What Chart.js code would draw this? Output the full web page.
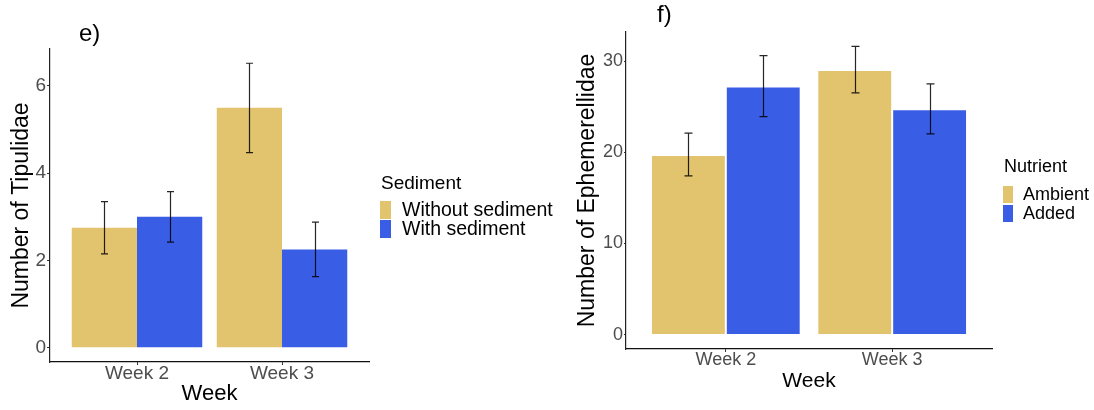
<!DOCTYPE html>
<html><head><meta charset="utf-8">
<script src="https://cdn.jsdelivr.net/npm/chart.js@4.4.1/dist/chart.umd.min.js"></script>
<style>
html,body{margin:0;padding:0;background:#fff;width:1094px;height:410px;overflow:hidden;}
#p1{position:absolute;left:0;top:0;}
#p2{position:absolute;left:560px;top:0;}
</style></head><body>
<canvas id="p1" width="560" height="410"></canvas>
<canvas id="p2" width="534" height="410"></canvas>
<script>
// ---------- shared categories ----------
const weeks = ['Week 2', 'Week 3'];
const weekPositions = [1, 2];

// ---------- panel e) Tipulidae ----------
const sedimentGroups = ['Without sediment', 'With sediment'];
const tipWithoutMean = [2.75, 5.5];
const tipWithoutLow  = [2.15, 4.47];
const tipWithoutHigh = [3.35, 6.52];
const tipWithMean = [3.0, 2.25];
const tipWithLow  = [2.42, 1.63];
const tipWithHigh = [3.58, 2.88];
const tipTicks = [0, 2, 4, 6];
const tipRange = [-0.326, 6.846];

// ---------- panel f) Ephemerellidae ----------
const nutrientGroups = ['Ambient', 'Added'];
const ephAmbientMean = [19.7, 29.0];
const ephAmbientLow  = [17.4, 26.5];
const ephAmbientHigh = [22.1, 31.6];
const ephAddedMean = [27.2, 24.7];
const ephAddedLow  = [23.9, 22.0];
const ephAddedHigh = [30.6, 27.5];
const ephTicks = [0, 10, 20, 30];
const ephRange = [-1.58, 33.18];

const GOLD = '#E2C36E';
const BLUE = '#395EE5';
const FONT = "'Liberation Sans', Arial, Helvetica, sans-serif";

const errorBarPlugin = {
  id: 'errorBars',
  afterDatasetsDraw(chart) {
    const ctx = chart.ctx, ys = chart.scales.y;
    const cap = chart.options.plugins.errorBars.cap;
    chart.data.datasets.forEach((ds, di) => {
      const meta = chart.getDatasetMeta(di);
      meta.data.forEach((bar, i) => {
        const x = Math.round(bar.x) + 0.5;
        const yl = ys.getPixelForValue(ds.errLow[i]);
        const yh = ys.getPixelForValue(ds.errHigh[i]);
        ctx.save();
        ctx.strokeStyle = 'rgba(0,0,0,0.85)';
        ctx.lineWidth = 1.2;
        ctx.beginPath();
        ctx.moveTo(x, yl); ctx.lineTo(x, yh);
        ctx.moveTo(x - cap, yl); ctx.lineTo(x + cap, yl);
        ctx.moveTo(x - cap, yh); ctx.lineTo(x + cap, yh);
        ctx.stroke();
        ctx.restore();
      });
    });
  }
};

const sideLegendPlugin = {
  id: 'sideLegend',
  afterDraw(chart) {
    const o = chart.options.plugins.sideLegend;
    const ctx = chart.ctx;
    const x0 = chart.chartArea.right + o.gap;
    ctx.save();
    ctx.textBaseline = 'middle';
    ctx.textAlign = 'left';
    ctx.fillStyle = '#000';
    ctx.font = o.titleSize + 'px ' + FONT;
    ctx.fillText(o.title, x0 + 1, o.titleY);
    ctx.font = o.labelSize + 'px ' + FONT;
    chart.data.datasets.forEach((ds, i) => {
      const top = o.boxTop + i * o.step;
      ctx.fillStyle = ds.backgroundColor;
      ctx.fillRect(x0, top, o.boxW, o.boxH);
      ctx.fillStyle = '#000';
      ctx.fillText(ds.label, x0 + o.textOffset, top + o.boxH / 2 + 0.5);
    });
    ctx.restore();
  }
};

const panelLabelPlugin = {
  id: 'panelLabel',
  afterDraw(chart) {
    const o = chart.options.plugins.panelLabel;
    const ctx = chart.ctx;
    ctx.save();
    ctx.font = o.size + 'px ' + FONT;
    ctx.fillStyle = '#000';
    ctx.textBaseline = 'middle';
    ctx.textAlign = 'left';
    ctx.fillText(o.text, o.x, o.y);
    ctx.restore();
  }
};

function makeDataset(label, means, lows, highs, color, border) {
  return {
    label: label,
    data: weekPositions.map((x, i) => ({x: x, y: means[i]})),
    errLow: lows,
    errHigh: highs,
    backgroundColor: color,
    borderColor: border ? 'rgba(255,255,255,0.45)' : color,
    borderWidth: border ? 1 : 0,
    categoryPercentage: 0.9,
    barPercentage: 1.0
  };
}

function tickColor(list) {
  return c => (c.tick && list.includes(c.tick.value)) ? '#333' : 'rgba(0,0,0,0)';
}

function makePanel(canvasId, cfg) {
  return new Chart(document.getElementById(canvasId), {
    type: 'bar',
    data: { datasets: cfg.datasets },
    plugins: [errorBarPlugin, sideLegendPlugin, panelLabelPlugin],
    options: {
      responsive: false,
      animation: false,
      devicePixelRatio: 1,
      layout: { padding: cfg.padding },
      plugins: {
        legend: { display: false },
        tooltip: { enabled: false },
        errorBars: { cap: cfg.cap },
        sideLegend: cfg.legend,
        panelLabel: cfg.label
      },
      scales: {
        x: {
          type: 'linear',
          min: 0.4, max: 2.6,
          offset: false,
          afterBuildTicks: s => { s.ticks = weekPositions.map(v => ({value: v})); },
          afterFit: s => { s.height = cfg.xHeight; },
          ticks: {
            callback: v => weeks[weekPositions.indexOf(v)],
            font: { family: FONT, size: cfg.tickSize, lineHeight: 1 },
            color: '#4d4d4d',
            padding: -1,
            autoSkip: false,
            maxRotation: 0
          },
          grid: { display: true, offset: false, drawOnChartArea: false, drawTicks: true, tickLength: 3,
                  color: tickColor(weekPositions), lineWidth: 1 },
          border: { display: true, color: '#111', width: 1.2 },
          title: { display: true, text: 'Week', color: '#000',
                   font: { family: FONT, size: cfg.xTitleSize, lineHeight: 1 },
                   padding: { top: 0, bottom: cfg.xTitlePad } }
        },
        y: {
          type: 'linear',
          min: cfg.range[0], max: cfg.range[1],
          afterBuildTicks: s => { s.ticks = cfg.ticks.map(v => ({value: v})); },
          afterFit: s => { s.width = cfg.yWidth; },
          ticks: {
            font: { family: FONT, size: cfg.tickSize, lineHeight: 1 },
            color: '#4d4d4d',
            padding: 1
          },
          grid: { display: true, drawOnChartArea: false, drawTicks: true, tickLength: cfg.yTick,
                  color: tickColor(cfg.ticks), lineWidth: 1 },
          border: { display: true, color: '#222', width: 1.2 },
          title: { display: true, text: cfg.yTitle, color: '#000',
                   font: { family: FONT, size: cfg.yTitleSize, lineHeight: 1 },
                   padding: { top: cfg.yTitlePad, bottom: 0 } }
        }
      }
    }
  });
}

makePanel('p1', {
  datasets: [
    makeDataset(sedimentGroups[0], tipWithoutMean, tipWithoutLow, tipWithoutHigh, GOLD, false),
    makeDataset(sedimentGroups[1], tipWithMean, tipWithLow, tipWithHigh, BLUE, false)
  ],
  padding: { left: 0, top: 49, right: 191, bottom: 0 },
  xHeight: 48, yWidth: 50,
  range: tipRange, ticks: tipTicks,
  tickSize: 19, xTitleSize: 22, xTitlePad: 5,
  yTitle: 'Number of Tipulidae', yTitleSize: 23, yTitlePad: 10.5, yTick: 3,
  cap: 3.5,
  legend: { title: 'Sediment', gap: 11, titleY: 184, titleSize: 19, labelSize: 19.5,
            boxTop: 201, step: 19, boxW: 11, boxH: 18, textOffset: 22 },
  label: { text: 'e)', x: 79, y: 34, size: 24 }
});

makePanel('p2', {
  datasets: [
    makeDataset(nutrientGroups[0], ephAmbientMean, ephAmbientLow, ephAmbientHigh, GOLD, true),
    makeDataset(nutrientGroups[1], ephAddedMean, ephAddedLow, ephAddedHigh, BLUE, true)
  ],
  padding: { left: 0, top: 32, right: 102, bottom: 0 },
  xHeight: 61, yWidth: 66,
  range: ephRange, ticks: ephTicks,
  tickSize: 18, xTitleSize: 21, xTitlePad: 18,
  yTitle: 'Number of Ephemerellidae', yTitleSize: 23, yTitlePad: 16, yTick: 2,
  cap: 4,
  legend: { title: 'Nutrient', gap: 11, titleY: 167, titleSize: 18, labelSize: 18,
            boxTop: 186, step: 19, boxW: 10, boxH: 17, textOffset: 20 },
  label: { text: 'f)', x: 97, y: 15, size: 24 }
});
</script>
</body></html>
